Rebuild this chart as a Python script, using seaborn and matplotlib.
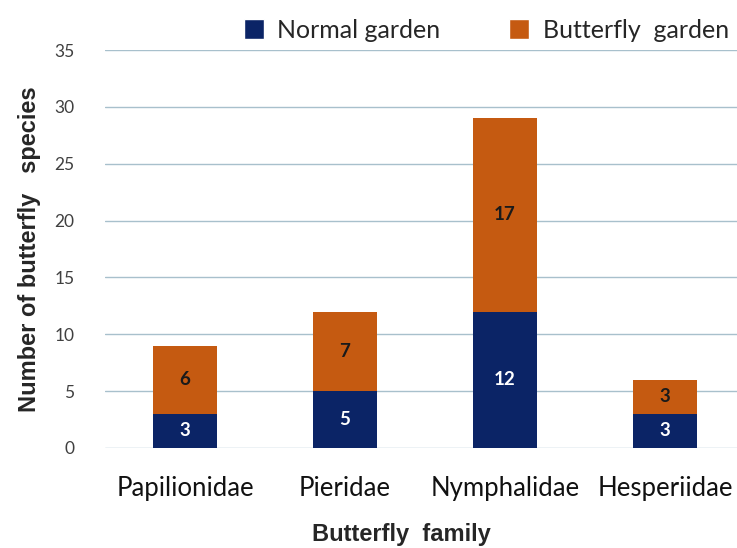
import matplotlib
matplotlib.use("Agg")
import matplotlib.pyplot as plt
import seaborn as sns
import pandas as pd
from matplotlib.patches import Patch

families = ["Papilionidae", "Pieridae", "Nymphalidae", "Hesperiidae"]
normal = [3, 5, 12, 3]
butterfly = [6, 7, 17, 3]
yticks = [0, 5, 10, 15, 20, 25, 30, 35]

navy = "#0B2466"
orange = "#C55A11"

sns.set_theme(style="white")
plt.rcParams["font.family"] = ["Lato", "DejaVu Sans"]

df = pd.DataFrame({"family": families, "normal": normal, "butterfly": butterfly})
df["total"] = df["normal"] + df["butterfly"]

fig = plt.figure(figsize=(7.37, 5.48), dpi=100)
ax = fig.add_axes([105/737, 1-448/548, 1-105/737, (448-50)/548])

for y in yticks:
    ax.axhline(y, color="#A8C0CC", lw=1, zorder=0)

sns.barplot(data=df, x="family", y="total", color=orange, width=0.4,
            saturation=1, ax=ax, zorder=2, linewidth=0)
sns.barplot(data=df, x="family", y="normal", color=navy, width=0.4,
            saturation=1, ax=ax, zorder=3, linewidth=0)

for i, (n, b) in enumerate(zip(normal, butterfly)):
    ax.text(i, n/2, str(n), ha="center", va="center", color="white",
            fontsize=13.5, fontweight="bold", zorder=4)
    ax.text(i, n + b/2, str(b), ha="center", va="center", color="#1a1a1a",
            fontsize=13.5, fontweight="bold", zorder=4)

ax.set_xlim(-0.5, 3.45)
ax.set_ylim(0, 35)
ax.set_yticks(yticks)
ax.tick_params(axis="y", labelsize=12.5, labelcolor="#404040", length=0, pad=22)
ax.tick_params(axis="x", labelsize=18.5, labelcolor="#111111", length=0, pad=20)
for s in ax.spines.values():
    s.set_visible(False)
ax.set_xlabel("Butterfly  family", fontsize=17, fontweight="bold",
              family=["Liberation Sans"])
ax.xaxis.set_label_coords((401-105)/632, -(535-448)/398)
ax.xaxis.label.set_va("center")
ax.set_ylabel("Number of butterfly   species", fontsize=17, fontweight="bold",
              family=["Liberation Sans"])
ax.yaxis.set_label_coords(-(105-30)/632, 0.5)
ax.yaxis.label.set_va("center")

handles = [Patch(facecolor=navy, label="Normal garden"),
           Patch(facecolor=orange, label="Butterfly  garden")]
fig.legend(handles=handles, loc="upper left", bbox_to_anchor=(221/737, 1.007), ncol=2,
           frameon=False, fontsize=18, handlelength=0.8, handleheight=0.8,
           columnspacing=2.75, handletextpad=0.55)

fig.savefig("out.png", dpi=100)
